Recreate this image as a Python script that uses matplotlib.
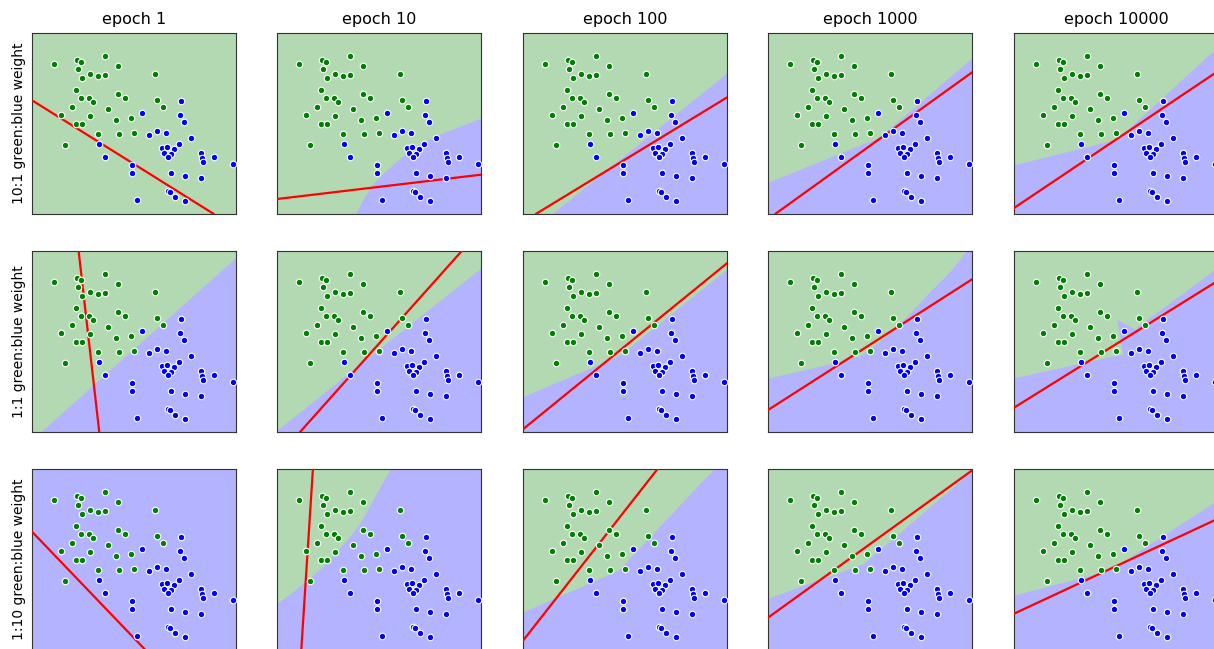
import matplotlib
matplotlib.use("Agg")
import matplotlib.pyplot as plt

# epochs (columns) and class weightings (rows)
epochs = [1, 10, 100, 1000, 10000]
row_labels = ["10:1 green:blue weight", "1:1 green:blue weight", "1:10 green:blue weight"]

# training points, same in every panel
green_x = [0.77, 1.48, 1.58, 2.31, 2.71, 1.51, 1.85, 2.09, 2.31, 1.62, 3.83, 1.43, 1.59, 1.82, 1.94, 2.70,
           2.91, 1.33, 2.40, 0.98, 1.85, 2.65, 3.09, 1.45, 1.62, 3.88, 4.06, 2.11, 2.72, 3.17, 1.11]
green_y = [4.92, 5.03, 4.99, 5.16, 4.85, 4.76, 4.63, 4.57, 4.59, 4.49, 4.63, 4.14, 3.91, 3.89, 3.79, 4.02,
           3.89, 3.64, 3.57, 3.39, 3.36, 3.23, 3.29, 3.13, 3.13, 3.85, 3.64, 2.81, 2.81, 2.84, 2.48]
blue_x = [4.59, 3.42, 4.58, 4.69, 3.88, 3.65, 4.14, 4.89, 2.14, 4.55, 4.02, 4.19, 4.40, 4.10, 4.29, 4.21,
          2.30, 5.20, 5.23, 5.27, 5.60, 6.17, 3.12, 3.12, 4.31, 4.71, 5.21, 4.22, 4.26, 4.41, 4.72, 3.27]
blue_y = [3.80, 3.44, 3.39, 3.18, 2.92, 2.78, 2.84, 2.69, 2.51, 2.52, 2.41, 2.42, 2.36, 2.26, 2.22, 2.13,
          2.12, 2.25, 2.10, 1.99, 2.12, 1.93, 1.90, 1.66, 1.64, 1.57, 1.50, 1.12, 1.08, 0.92, 0.80, 0.84]

# red line (linear model), two points on it, per [row][col]
red_lines = [
    [((0.14, 3.82), (5.57, 0.43)), ((0.12, 0.87), (6.25, 1.60)), ((0.52, 0.43), (6.27, 3.93)),
     ((0.35, 0.43), (6.25, 4.67)), ((0.12, 0.60), (6.12, 4.62))],
    [((1.52, 5.86), (2.14, 0.43)), ((0.82, 0.43), (5.68, 5.86)), ((0.14, 0.52), (6.27, 5.50)),
     ((0.12, 1.08), (6.25, 5.00)), ((0.12, 1.15), (6.12, 4.88))],
    [((0.14, 3.95), (3.52, 0.43)), ((1.20, 5.86), (0.85, 0.43)), ((0.12, 0.70), (4.17, 5.86)),
     ((0.12, 1.39), (6.24, 5.80)), ((0.12, 1.51), (6.12, 4.30))],
]

# edge of the blue decision region (blue is below/right of it), per [row][col]
regions = [
    [[(0.0, 0.3), (6.4, 0.3)],
     [(2.43, 0.3), (2.50, 0.43), (2.75, 0.90), (3.00, 1.30), (3.40, 1.70), (3.80, 2.05), (4.10, 2.30),
      (4.40, 2.50), (4.80, 2.70), (5.20, 2.88), (5.60, 3.03), (6.25, 3.28), (6.4, 3.34)],
     [(0.86, 0.3), (6.4, 4.75)],
     [(0.0, 1.30), (0.12, 1.35), (3.0, 2.52), (3.3, 2.62), (3.6, 2.82), (6.25, 5.08), (6.4, 5.2)],
     [(0.0, 1.85), (0.12, 1.88), (2.95, 2.58), (3.3, 2.72), (6.25, 5.42), (6.4, 5.55)]],
    [[(0.27, 0.3), (6.4, 5.77)],
     [(0.0, 0.355), (6.4, 5.44)],
     [(0.0, 1.41), (0.14, 1.47), (3.02, 2.70), (6.27, 5.30), (6.4, 5.40)],
     [(0.0, 1.99), (0.12, 2.02), (2.0, 2.45), (2.9, 2.70), (3.4, 3.05), (4.0, 3.58), (4.5, 4.08),
      (5.0, 4.62), (5.6, 5.22), (6.12, 5.86), (6.2, 6.0)],
     [(0.0, 2.0), (0.12, 2.03), (3.40, 2.75), (3.23, 3.78), (3.75, 3.50), (6.12, 5.25), (6.4, 5.46)]],
    [[(0.0, 6.0), (6.4, 6.0)],
     [(0.0, 1.70), (0.12, 1.80), (0.60, 2.15), (1.10, 2.55), (1.60, 3.00), (2.00, 3.45), (2.35, 3.85),
      (2.65, 4.25), (2.90, 4.70), (3.20, 5.25), (3.55, 5.86), (3.62, 6.0)],
     [(0.0, 1.48), (0.12, 1.54), (3.0, 2.8), (5.88, 5.86), (6.0, 6.0)],
     [(0.0, 1.9), (0.12, 1.96), (3.0, 3.0), (6.4, 5.9)],
     [(0.0, 2.0), (0.12, 2.05), (3.0, 2.8), (6.4, 5.0)]],
]

xlim = (0.12, 6.25)
ylim = (0.43, 5.86)

green_bg = (0.7, 0.85, 0.7)
blue_bg = (0.7, 0.7, 1.0)

W, H = 1214, 649
fig = plt.figure(figsize=(W / 100, H / 100), dpi=100)

col_left = [32, 277, 523, 768, 1014]
row_top = [32.7, 250.7, 468.7]
ax_w, ax_h = 204, 181

for r in range(3):
    for c in range(5):
        ax = fig.add_axes([col_left[c] / W, 1 - (row_top[r] + ax_h) / H, ax_w / W, ax_h / H])
        ax.set_facecolor(green_bg)

        # blue region: edge + corners outside the axes
        edge = regions[r][c]
        px = [p[0] for p in edge] + [6.4, 6.4, 0.0]
        py = [p[1] for p in edge] + [6.0, 0.3, 0.3]
        ax.fill(px, py, color=blue_bg, lw=0)

        p1, p2 = red_lines[r][c]
        ax.axline(p1, p2, color="red", lw=1.6, zorder=3)

        ax.scatter(green_x, green_y, s=22, c="green", edgecolors="white", linewidths=0.8, zorder=4)
        ax.scatter(blue_x, blue_y, s=22, c="blue", edgecolors="white", linewidths=0.8, zorder=4)

        ax.set_xlim(xlim)
        ax.set_ylim(ylim)
        ax.set_xticks([])
        ax.set_yticks([])
        for s in ax.spines.values():
            s.set_color("#333333")

        if r == 0:
            ax.set_title(f"epoch {epochs[c]}", fontsize=11.5)
        if c == 0:
            ax.set_ylabel(row_labels[r], fontsize=10)

fig.savefig("out.png", dpi=100)
